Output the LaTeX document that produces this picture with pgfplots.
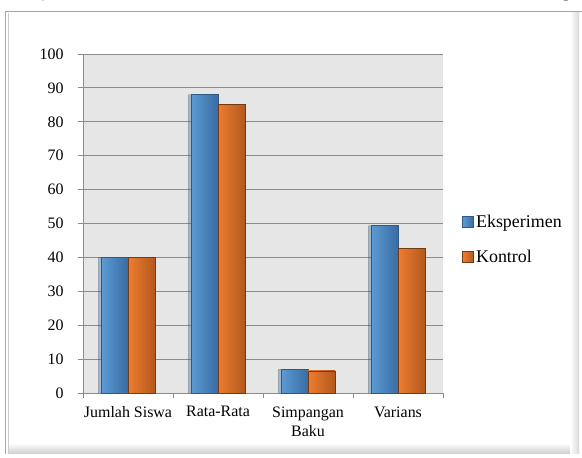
\documentclass[border=0pt]{standalone}
\usepackage{fontspec}
\setmainfont{Liberation Serif}
\newfontfamily\capfont{Carlito}
\usepackage{pgfplots}
\pgfplotsset{compat=1.18}
\usetikzlibrary{calc,shadows}
\definecolor{eksF}{RGB}{91,155,213}
\definecolor{eksL}{RGB}{112,174,232}
\definecolor{eksD}{RGB}{58,108,162}
\definecolor{eksE}{RGB}{48,88,132}
\definecolor{konF}{RGB}{237,125,49}
\definecolor{konL}{RGB}{250,145,64}
\definecolor{konD}{RGB}{180,88,28}
\definecolor{konE}{RGB}{115,58,20}
\definecolor{plotbg}{RGB}{230,230,230}
\definecolor{gridc}{RGB}{140,140,140}
\pgfplotsset{
  eks/.style={draw=eksE, line width=0.8bp, left color=eksF, middle color=eksL, right color=eksD},
  kon/.style={draw=konE, line width=0.8bp, left color=konF, middle color=konL, right color=konD},
  shd/.style={drop shadow={shadow xshift=-3bp, shadow yshift=0bp, opacity=0.18, fill=black}},
}
\begin{document}
\begin{tikzpicture}[x=1bp,y=1bp]
\begin{axis}[
  name=ax,
  scale only axis, width=360bp, height=339bp,
  xmin=-0.5, xmax=3.5, ymin=0, ymax=100,
  ybar=0pt, bar width=27bp,
  xtick={-0.5,0.5,1.5,2.5,3.5}, xticklabels={},
  extra x ticks={0,1,2,3},
  extra x tick labels={Jumlah Siswa, Rata-Rata, {Simpangan\\Baku}, Varians},
  extra x tick style={major tick length=0pt, grid=none,
     xticklabel style={align=center, yshift=-10bp, font=\fontsize{16}{19}\selectfont}},
  ytick={0,10,...,100},
  yticklabel style={xshift=-11bp},
  ymajorgrids, grid style={gridc, line width=0.9bp},
  tick align=outside, major tick length=5bp,
  tick style={gridc, line width=0.9bp},
  axis x line*=bottom, axis y line*=left,
  axis line style={gridc, line width=0.9bp, -},
  axis background/.style={fill=plotbg},
  ticklabel style={font=\fontsize{16}{18}\selectfont},
  /pgf/number format/assume math mode=true,
  legend style={at={(1.053,0.452)}, anchor=west, draw=none, fill=none,
     font=\fontsize{18}{20}\selectfont, row sep=17bp, inner xsep=0pt,
     nodes={inner xsep=2bp}},
  legend cell align=left,
  legend image code/.code={\draw[#1] (0bp,-5.5bp) rectangle (11bp,5.5bp);},
  clip=false,
]
\addlegendimage{eks}
\addlegendentry{Eksperimen}
\addlegendimage{kon}
\addlegendentry{Kontrol}
% Eksperimen
\addplot[eks, shd, bar shift=-13.5bp, forget plot] coordinates {(0,40)};
\addplot[eks, shd, bar shift=-13.5bp, forget plot] coordinates {(1,88)};
\addplot[eks, shd, bar shift=-13.5bp, forget plot] coordinates {(2,7)};
\addplot[eks, shd, bar shift=-13.5bp, forget plot] coordinates {(3,49.3)};
% Kontrol
\addplot[kon, bar shift=13.5bp, forget plot] coordinates {(0,40)};
\addplot[kon, bar shift=13.5bp, forget plot] coordinates {(1,85)};
\addplot[kon, bar shift=13.5bp, forget plot] coordinates {(2,6.5)};
\addplot[kon, bar shift=13.5bp, forget plot] coordinates {(3,42.6)};
\coordinate (O) at (rel axis cs:-0.230556,-0.188791);
\coordinate (TR) at (rel axis cs:1.386111,1.159292);
\end{axis}
% frame and shadows, in picture pixels from O
\shade[top color=white, bottom color=black!18] ($(O)+(8,4)$) rectangle ($(O)+(579,14)$);
\shade[left color=white, right color=black!15] ($(O)+(570,4)$) rectangle ($(O)+(579,446)$);
\draw[black!35, line width=1bp] ($(O)+(5.5,3)$) -- ($(O)+(5.5,446)$) -- ($(O)+(582,446)$);
\draw[black!20, line width=1bp] ($(O)+(8.5,3)$) -- ($(O)+(8.5,444)$);
% caption fragments (cut off at the top in the reference)
\begin{scope}
\clip ($(O)+(0,447)$) rectangle (TR);
\node[anchor=base west, inner sep=0pt, font=\capfont\fontsize{26}{30}\selectfont] at ($(O)+(40,460)$) {p};
\node[anchor=base west, inner sep=0pt, font=\capfont\fontsize{26}{30}\selectfont] at ($(O)+(560,460)$) {g};
\end{scope}
\pgfresetboundingbox
\useasboundingbox (O) rectangle (TR);
\end{tikzpicture}
\end{document}
